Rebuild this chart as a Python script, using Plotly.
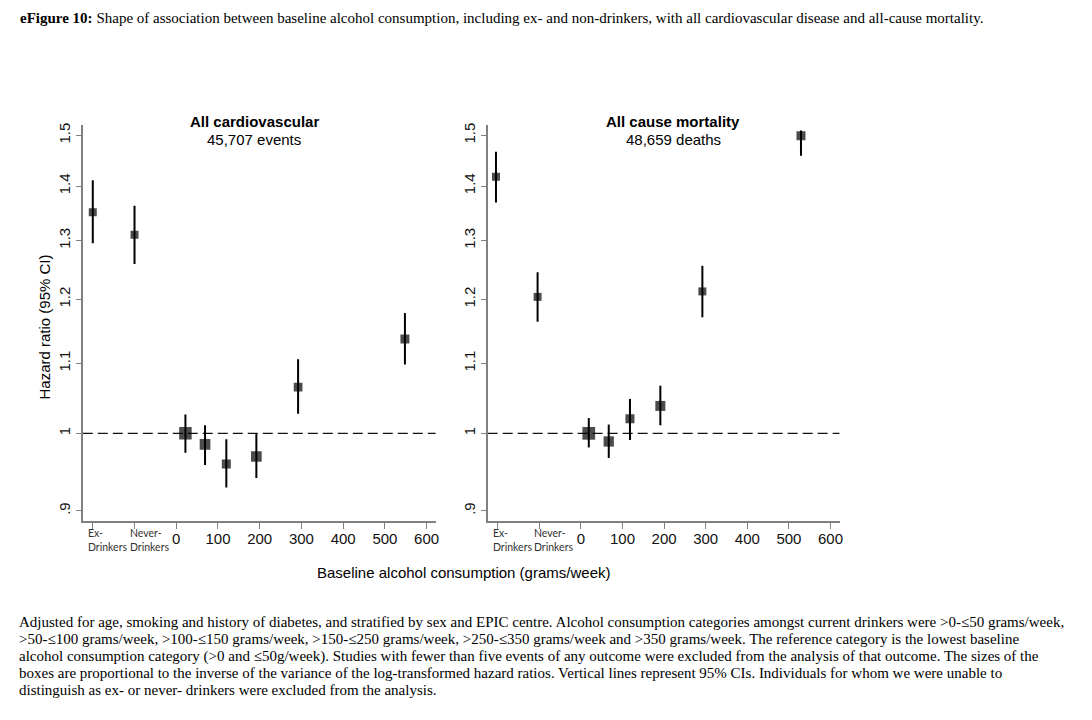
import plotly.graph_objects as go

# ---------------- data ----------------
x_tickvals = [-200, -100, 0, 100, 200, 300, 400, 500, 600]
x_ticklabels = ["Ex-|Drinkers", "Never-|Drinkers", "0", "100", "200", "300", "400", "500", "600"]
y_tickvals = [0.9, 1.0, 1.1, 1.2, 1.3, 1.4, 1.5]
y_ticktext = [".9", "1", "1.1", "1.2", "1.3", "1.4", "1.5"]

# All cardiovascular (45,707 events)
cvd_x = [-200, -100, 22, 69, 120, 192, 292, 548]
cvd_hr = [1.351, 1.310, 1.000, 0.985, 0.959, 0.969, 1.065, 1.137]
cvd_lo = [1.295, 1.259, 0.974, 0.958, 0.929, 0.941, 1.027, 1.098]
cvd_hi = [1.411, 1.363, 1.026, 1.011, 0.992, 1.000, 1.106, 1.178]
cvd_box = [8, 8, 12.5, 10.7, 9, 10.7, 8.7, 9]

# All cause mortality (48,659 deaths)
mort_x = [-204, -104, 19, 67, 118, 191, 292, 529]
mort_hr = [1.418, 1.204, 1.000, 0.989, 1.020, 1.038, 1.213, 1.499]
mort_lo = [1.369, 1.164, 0.981, 0.967, 0.991, 1.011, 1.171, 1.459]
mort_hi = [1.467, 1.245, 1.021, 1.012, 1.048, 1.067, 1.256, 1.510]
mort_box = [8, 8, 12.7, 10.3, 9, 10, 8, 9]

ref_hr = 1.0
x_range = [-224, 622]

panel_titles = ["<b>All cardiovascular</b>", "<b>All cause mortality</b>"]
panel_subtitles = ["45,707 events", "48,659 deaths"]

header = ("<b>eFigure 10:</b> Shape of association between baseline alcohol consumption, "
          "including ex- and non-drinkers, with all cardiovascular disease and all-cause mortality.")
footnote_lines = [
    "Adjusted for age, smoking and history of diabetes, and stratified by sex and EPIC centre. Alcohol consumption categories amongst current drinkers were >0-≤50 grams/week,",
    ">50-≤100 grams/week, >100-≤150 grams/week, >150-≤250 grams/week, >250-≤350 grams/week and >350 grams/week. The reference category is the lowest baseline",
    "alcohol consumption category (>0 and ≤50g/week). Studies with fewer than five events of any outcome were excluded from the analysis of that outcome. The sizes of the",
    "boxes are proportional to the inverse of the variance of the log-transformed hazard ratios. Vertical lines represent 95% CIs. Individuals for whom we were unable to",
    "distinguish as ex- or never- drinkers were excluded from the analysis.",
]

# numeric ticks go on the axis; the two-line category labels are placed under their ticks
x_ticktext = ["" if "|" in t else t for t in x_ticklabels]
cat_labels = [(v, t.replace("|", "<br>")) for v, t in zip(x_tickvals, x_ticklabels) if "|" in t]

# ---------------- figure ----------------
W, H = 1092, 720
fig = go.Figure()

panels = [
    (cvd_x, cvd_hr, cvd_lo, cvd_hi, cvd_box, "x", "y"),
    (mort_x, mort_hr, mort_lo, mort_hi, mort_box, "x2", "y2"),
]
for xs, hr, lo, hi, box, xa, ya in panels:
    fig.add_trace(go.Scatter(
        x=x_range, y=[ref_hr, ref_hr], mode="lines",
        line=dict(color="#111111", width=1.4, dash="10px,5px"),
        xaxis=xa, yaxis=ya, hoverinfo="skip", showlegend=False,
    ))
    fig.add_trace(go.Scatter(
        x=xs, y=hr, mode="markers",
        marker=dict(symbol="square", size=box, color="black", line=dict(width=0)),
        error_y=dict(type="data", symmetric=False,
                     array=[h - v for h, v in zip(hi, hr)],
                     arrayminus=[v - l for v, l in zip(hr, lo)],
                     width=0, thickness=2, color="black"),
        xaxis=xa, yaxis=ya, showlegend=False,
    ))

axis_col = "#808080"
xcommon = dict(range=x_range, tickmode="array", tickvals=x_tickvals, ticktext=x_ticktext,
               tickangle=0, ticklabelstandoff=-3,
               showline=True, linecolor=axis_col, linewidth=1.5, ticks="outside",
               ticklen=6, tickwidth=1.2, tickcolor=axis_col, showgrid=False, zeroline=False,
               tickfont=dict(family="Liberation Sans, Arial", size=15, color="#111111"))
ycommon = dict(type="log", range=[-0.0517, 0.1819], domain=[200 / H, 1 - 123 / H],
               tickmode="array", tickvals=y_tickvals, ticktext=y_ticktext, tickangle=-90,
               showline=True, linecolor=axis_col, linewidth=1.5, ticks="outside",
               ticklen=5, tickwidth=1.2, tickcolor=axis_col, showgrid=False, zeroline=False,
               tickfont=dict(family="Liberation Sans, Arial", size=15, color="#111111"))

fig.update_layout(
    width=W, height=H,
    margin=dict(l=0, r=0, t=0, b=0),
    paper_bgcolor="white", plot_bgcolor="white",
    xaxis=dict(domain=[83 / W, 437 / W], anchor="y", **xcommon),
    yaxis=dict(anchor="x", **ycommon),
    xaxis2=dict(domain=[489 / W, 842 / W], anchor="y2", **xcommon),
    yaxis2=dict(anchor="x2", **ycommon),
)

sans = "Liberation Sans, Arial"
serif = "Liberation Serif, Times New Roman"
ann = []
# category tick labels (Ex- / Never- drinkers)
for xa in ["x", "x2"]:
    for v, txt in cat_labels:
        ann.append(dict(text=txt, x=v, y=1 - 524 / H, xref=xa, yref="paper",
                        xanchor="left", yanchor="top", align="left", xshift=-7,
                        showarrow=False,
                        font=dict(family="Lato", size=10.5, color="#333333")))
# header
ann.append(dict(text=header, x=18 / W, y=1 - 15 / H, xref="paper", yref="paper",
                xanchor="left", yanchor="middle", showarrow=False,
                font=dict(family=serif, size=15, color="black")))
# panel titles
for cx, t, s in zip([255, 675], panel_titles, panel_subtitles):
    ann.append(dict(text=t, x=cx / W, y=1 - 119 / H, xref="paper", yref="paper",
                    xanchor="center", yanchor="middle", showarrow=False,
                    font=dict(family=sans, size=15, color="black")))
    ann.append(dict(text=s, x=cx / W, y=1 - 137 / H, xref="paper", yref="paper",
                    xanchor="center", yanchor="middle", showarrow=False,
                    font=dict(family=sans, size=15, color="black")))
# axis titles
ann.append(dict(text="Baseline alcohol consumption (grams/week)", x=465 / W, y=1 - 572 / H,
                xref="paper", yref="paper", xanchor="center", yanchor="middle", showarrow=False,
                font=dict(family=sans, size=15, color="black")))
ann.append(dict(text="Hazard ratio (95% CI)", x=45 / W, y=1 - 325 / H, textangle=-90,
                xref="paper", yref="paper", xanchor="center", yanchor="middle", showarrow=False,
                font=dict(family=sans, size=15, color="black")))
# footnote
for i, line in enumerate(footnote_lines):
    ann.append(dict(text=line, x=17 / W, y=1 - (622 + 17 * i) / H, xref="paper", yref="paper",
                    xanchor="left", yanchor="middle", showarrow=False,
                    font=dict(family=serif, size=15, color="black")))
fig.update_layout(annotations=ann)

fig.write_html("out.html", config={"displayModeBar": False},
               post_script="document.body.style.margin='0px';")
